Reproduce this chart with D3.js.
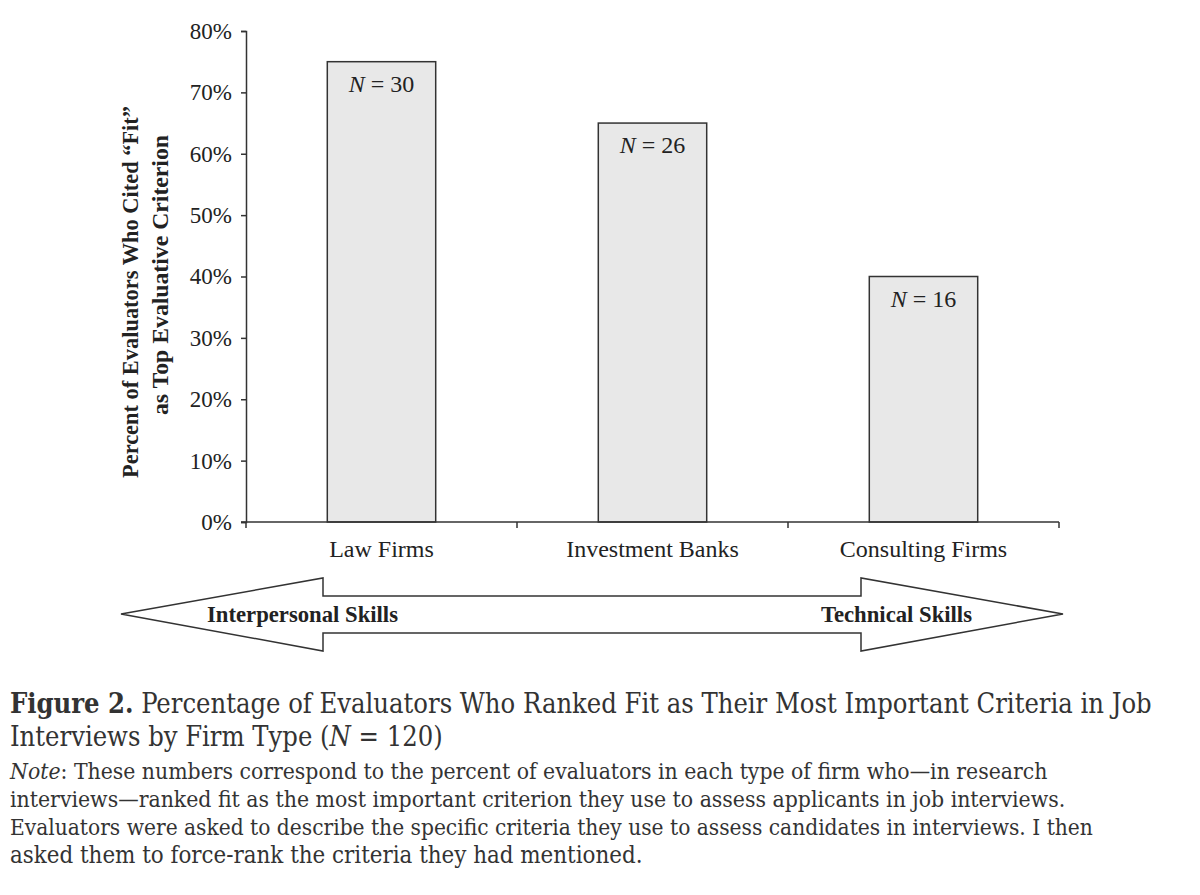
<!DOCTYPE html>
<html><head><meta charset="utf-8">
<script src="https://cdn.jsdelivr.net/npm/d3@7"></script>
<style>body{margin:0;background:#fff}</style>
</head><body>
<svg id="c" width="1200" height="895"></svg>
<script>
const categories = ["Law Firms", "Investment Banks", "Consulting Firms"];
const values = [75, 65, 40];
const nLabels = ["30", "26", "16"];
const yTicks = [0, 10, 20, 30, 40, 50, 60, 70, 80];
const yTitle = ["Percent of Evaluators Who Cited \u201cFit\u201d", "as Top Evaluative Criterion"];
const arrowLabels = ["Interpersonal Skills", "Technical Skills"];
const captionTitleBold = "Figure 2.";
const captionTitle1 = " Percentage of Evaluators Who Ranked Fit as Their Most Important Criteria in Job";
const noteLines = [
  "These numbers correspond to the percent of evaluators in each type of firm who\u2014in research",
  "interviews\u2014ranked fit as the most important criterion they use to assess applicants in job interviews.",
  "Evaluators were asked to describe the specific criteria they use to assess candidates in interviews. I then",
  "asked them to force-rank the criteria they had mentioned."
];

const svg = d3.select("#c");
const serif = "'Liberation Serif','Times New Roman',serif";
const capFont = "'DejaVu Serif Condensed','DejaVu Serif',serif";
const ink = "#222";

const x = d3.scaleBand().domain(categories).range([246, 1059]).padding(0);
const y = d3.scaleLinear().domain([0, 80]).range([522, 31]);
const barW = x.bandwidth() * 0.4;

// bars
const g = svg.append("g");
g.selectAll("rect.bar").data(values).join("rect")
  .attr("x", (d, i) => x(categories[i]) + x.bandwidth() / 2 - barW / 2)
  .attr("y", d => y(d))
  .attr("width", barW)
  .attr("height", d => y(0) - y(d))
  .attr("fill", "#e8e8e8").attr("stroke", "#333").attr("stroke-width", 1.5);

// N labels
g.selectAll("text.n").data(values).join("text")
  .attr("x", (d, i) => x(categories[i]) + x.bandwidth() / 2)
  .attr("y", d => y(d) + 30)
  .attr("text-anchor", "middle")
  .attr("font-family", serif).attr("font-size", 24).attr("fill", ink)
  .each(function(d, i) {
    const t = d3.select(this);
    t.append("tspan").attr("font-style", "italic").text("N");
    t.append("tspan").text(" = " + nLabels[i]);
  });

// y axis
const yAxis = d3.axisLeft(y).tickValues(yTicks).tickFormat(d => d + "%").tickSize(5).tickPadding(9);
const ya = svg.append("g").attr("transform", "translate(246,0)").call(yAxis);
ya.select(".domain").attr("stroke", "#333").attr("stroke-width", 1.5);
ya.selectAll(".tick line").attr("stroke", "#333").attr("stroke-width", 1.5);
ya.selectAll(".tick text").attr("font-family", serif).attr("font-size", 23).attr("fill", ink);

// x axis: baseline with ticks at band boundaries
const xa = svg.append("g").attr("transform", `translate(0,${y(0)})`);
xa.append("line").attr("x1", 241).attr("x2", 1059).attr("stroke", "#333").attr("stroke-width", 1.5);
const bounds = categories.map(c => x(c)).concat([x.range()[1]]);
xa.selectAll("line.tk").data(bounds).join("line")
  .attr("x1", d => d).attr("x2", d => d).attr("y1", 0).attr("y2", 6)
  .attr("stroke", "#333").attr("stroke-width", 1.5);
xa.selectAll("text.cat").data(categories).join("text")
  .attr("x", d => x(d) + x.bandwidth() / 2).attr("y", 35)
  .attr("text-anchor", "middle").attr("font-family", serif).attr("font-size", 24).attr("fill", ink)
  .text(d => d);

// y title (two lines, rotated)
const ytPos = [[138, 292, 372], [168, 275, 280]];
yTitle.forEach((ln, i) => {
  svg.append("text").attr("transform", `translate(${ytPos[i][0]},${ytPos[i][1]}) rotate(-90)`)
    .attr("text-anchor", "middle").attr("font-family", serif).attr("font-weight", "bold")
    .attr("font-size", 22.5).attr("fill", ink)
    .attr("textLength", ytPos[i][2]).attr("lengthAdjust", "spacingAndGlyphs")
    .text(ln);
});

// double arrow
const ax = d3.scaleLinear().domain([0, 1]).range([121, 1063]);
const tipY = 614, headTop = 578, headBot = 651, shaftTop = 596, shaftBot = 633;
const lb = 323, rb = 861;
const pts = [[ax(0), tipY], [lb, headTop], [lb, shaftTop], [rb, shaftTop], [rb, headTop], [ax(1), tipY],
  [rb, headBot], [rb, shaftBot], [lb, shaftBot], [lb, headBot]];
svg.append("path").attr("d", d3.line()(pts) + "Z")
  .attr("fill", "#fff").attr("stroke", "#333").attr("stroke-width", 1.5);
svg.append("text").attr("x", 207).attr("y", 622).attr("font-family", serif).attr("font-weight", "bold")
  .attr("font-size", 22.7).attr("fill", ink).text(arrowLabels[0]);
svg.append("text").attr("x", 972).attr("y", 622).attr("text-anchor", "end").attr("font-family", serif).attr("font-weight", "bold")
  .attr("font-size", 22.7).attr("fill", ink).text(arrowLabels[1]);

// caption
const capColor = "#333";
function fit(sel, w) {
  const n = sel.node().getComputedTextLength();
  const fs = +sel.attr("font-size");
  sel.attr("font-size", fs * w / n);
}
const c1 = svg.append("text").attr("x", 10).attr("y", 713).attr("font-family", capFont)
  .attr("font-size", 22).attr("fill", capColor);
c1.append("tspan").attr("font-weight", "bold").text(captionTitleBold);
c1.append("tspan").text(captionTitle1);
fit(c1, 1142);
const c2 = svg.append("text").attr("x", 10).attr("y", 746).attr("font-family", capFont)
  .attr("font-size", 22).attr("fill", capColor);
c2.append("tspan").text("Interviews by Firm Type (");
c2.append("tspan").attr("font-style", "italic").text("N");
c2.append("tspan").text(" = 120)");
c2.attr("font-size", c1.attr("font-size"));

const noteY = [779, 807, 835, 863];
const noteW = [1038, 1056, 1083, 633];
noteLines.forEach((ln, i) => {
  const t = svg.append("text").attr("x", 10).attr("y", noteY[i]).attr("font-family", capFont)
    .attr("font-size", 20).attr("fill", capColor);
  if (i === 0) {
    t.append("tspan").attr("font-style", "italic").text("Note");
    t.append("tspan").text(": " + ln);
  } else t.text(ln);
  fit(t, noteW[i]);
});
</script>
</body></html>
